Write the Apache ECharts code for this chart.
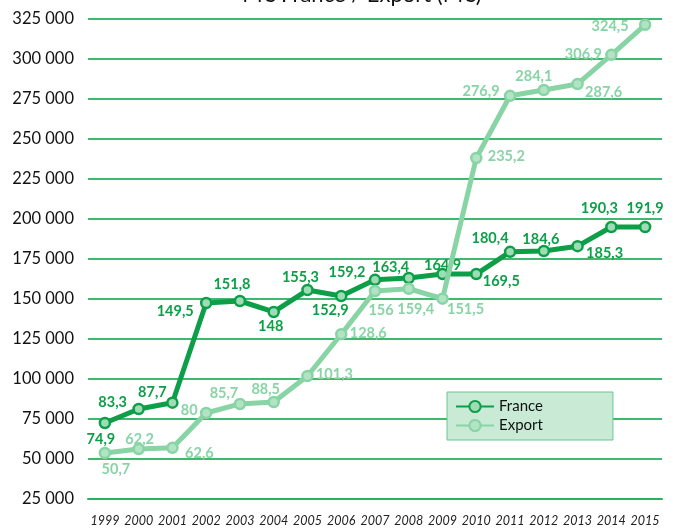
<!DOCTYPE html>
<html>
<head>
<meta charset="utf-8">
<style>
  html, body { margin: 0; padding: 0; background: #fff; }
  #chart { width: 673px; height: 529px; }
</style>
<script src="https://cdn.jsdelivr.net/npm/echarts@6/dist/echarts.min.js"></script>
</head>
<body>
<div id="chart"></div>
<script>
// données
var years = ['1999', '2000', '2001', '2002', '2003', '2004', '2005', '2006', '2007',
             '2008', '2009', '2010', '2011', '2012', '2013', '2014', '2015'];

// position des points (échelle de l'axe)
var franceValues = [72500, 81250, 85200, 147500, 148750, 141900, 155600, 151900, 162000,
                    163100, 165600, 165600, 179500, 180000, 183000, 195000, 195000];
var exportValues = [53750, 56250, 57000, 78750, 84400, 85600, 101900, 128000, 155000,
                    156400, 150200, 238100, 277000, 280600, 284400, 302600, 321400];

// étiquettes affichées (M€)
var franceLabels = ['74,9', '83,3', '87,7', '149,5', '151,8', '148', '155,3', '152,9', '159,2',
                    '163,4', '164,9', '169,5', '180,4', '184,6', '185,3', '190,3', '191,9'];
var exportLabels = ['50,7', '62,2', '62,6', '80', '85,7', '88,5', '101,3', '128,6', '156',
                    '159,4', '151,5', '235,2', '276,9', '284,1', '287,6', '306,9', '324,5'];

var yTicks = [25000, 325000, 25000]; // min, max, interval

// décalage des étiquettes par rapport au point
var franceLabelOffset = [[-4, 16], [-26, -7], [-20, -10], [-31, 8], [-8, -17], [-3, 14], [-7, -13],
                         [-11, 14], [-28, -7], [-18, -11], [0, -9], [25, 7], [-20, -13], [-3, -12],
                         [27, 7], [-12, -19], [0, -19]];
var exportLabelOffset = [[11, 16], [1, -10], [27, 6], [-17, -3], [-16, -11], [-8, -13], [27, -2],
                         [27, -1], [6, 19], [7, 21], [23, 11], [30, -2], [-29, -4], [-10, -14],
                         [26, 8], [-28, -1], [-35, 2]];

var darkGreen = '#0c9f48';
var lightGreen = '#88d4a5';

function buildData(values, labels, offsets){
    return values.map(function(v, i){
        return {
            value: v,
            label: { formatter: labels[i], offset: offsets[i] }
        };
    });
}

function formatThousands(v){
    var s = String(v);
    return s.length > 3 ? s.slice(0, s.length - 3) + ' ' + s.slice(-3) : s;
}

var myChart = echarts.init(document.getElementById('chart'));
var option = {
    animation: false,
    title: {
        text: 'M€ France / Export (M€)',
        left: 357,
        textAlign: 'center',
        top: -21,
        textStyle: { fontFamily: 'Lato', fontWeight: 'normal', fontSize: 22, color: '#111' }
    },
    grid: { left: 88, right: 11, top: 19, bottom: 30 },
    legend: {
        orient: 'vertical',
        left: 447,
        top: 392,
        padding: [7, 70, 7, 8],
        itemGap: 4,
        itemWidth: 38,
        itemHeight: 14,
        backgroundColor: '#c9ebd6',
        borderColor: '#6cc58e',
        borderWidth: 1,
        borderRadius: 0,
        textStyle: { fontFamily: 'Lato', fontSize: 15, color: '#111' },
        data: ['France', 'Export']
    },
    xAxis: {
        type: 'category',
        data: years,
        boundaryGap: true,
        axisLine: { lineStyle: { color: '#2db05e', width: 2 } },
        axisTick: { inside: true, length: 7, lineStyle: { color: '#2db05e', width: 1 } },
        axisLabel: {
            margin: 15,
            interval: 0,
            fontFamily: 'Lato',
            fontStyle: 'italic',
            fontSize: 12.5,
            color: '#222'
        }
    },
    yAxis: {
        type: 'value',
        min: yTicks[0],
        max: yTicks[1],
        interval: yTicks[2],
        axisLine: { show: false },
        axisTick: { show: false },
        axisLabel: {
            margin: 14,
            fontFamily: 'Lato',
            fontSize: 16.5,
            color: '#111',
            formatter: formatThousands
        },
        splitLine: { lineStyle: { color: '#40b86d', width: 2 } }
    },
    series: [{
        name: 'France',
        type: 'line',
        data: buildData(franceValues, franceLabels, franceLabelOffset),
        symbol: 'circle',
        symbolSize: 10,
        lineStyle: { color: darkGreen, width: 5 },
        itemStyle: { color: '#9edcb5', borderColor: darkGreen, borderWidth: 2.5 },
        label: {
            show: true,
            position: 'inside',
            fontFamily: 'Lato',
            fontWeight: 'bold',
            fontSize: 14.5,
            color: darkGreen
        },
        z: 3
    }, {
        name: 'Export',
        type: 'line',
        data: buildData(exportValues, exportLabels, exportLabelOffset),
        symbol: 'circle',
        symbolSize: 10,
        lineStyle: { color: lightGreen, width: 5 },
        itemStyle: { color: '#b1e3c4', borderColor: lightGreen, borderWidth: 2.5 },
        label: {
            show: true,
            position: 'inside',
            fontFamily: 'Lato',
            fontWeight: 'bold',
            fontSize: 14.5,
            color: lightGreen
        },
        z: 4
    }]
};

myChart.setOption(option);
</script>
</body>
</html>
